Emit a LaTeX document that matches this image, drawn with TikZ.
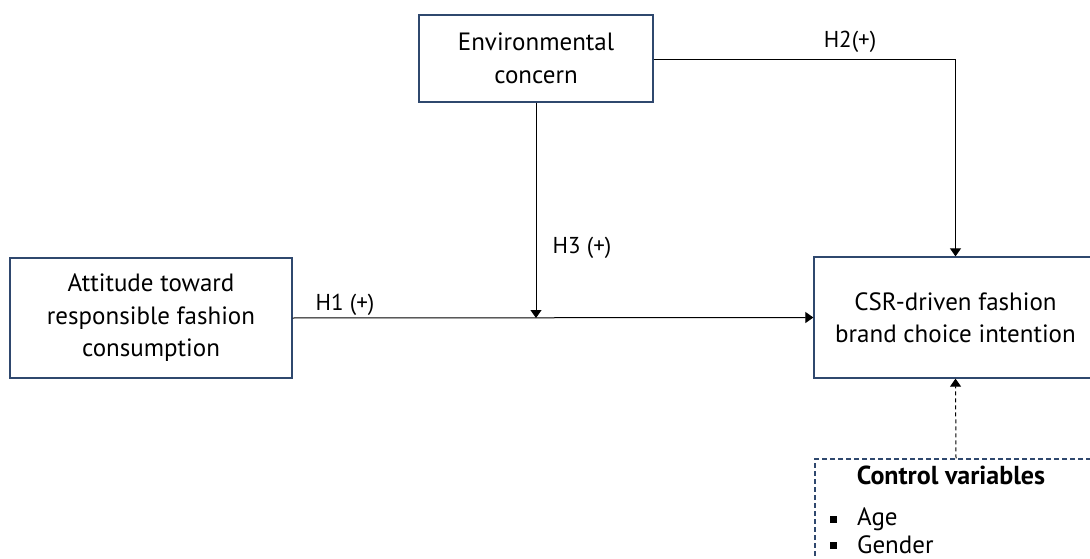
\documentclass[tikz,border=0pt]{standalone}
\usepackage{fontspec}
\setmainfont{PT Sans}
\usetikzlibrary{arrows.meta}
\definecolor{boxc}{RGB}{47,72,110}
\tikzset{
  box/.style={draw=boxc, line width=1.3pt, fill=white, align=center, inner sep=0pt},
  conn/.style={draw=black, line width=1pt},
  arr/.style={conn, -{Triangle[width=11pt,length=8pt]}},
  lbl/.style={inner sep=0pt, anchor=center, font=\fontsize{23}{32}\selectfont},
  ctl/.style={inner sep=0pt, anchor=west, font=\fontsize{25}{32}\selectfont},
  bul/.style={fill=black, inner sep=0pt, minimum size=7pt},
}
\begin{document}
\begin{tikzpicture}[x=1pt,y=-1pt, font=\fontsize{25}{32.5}\selectfont]
\useasboundingbox (0,0) rectangle (1090,559);
\clip (0,0) rectangle (1090,559);
\node[box, minimum width=234pt, minimum height=87pt] (env) at (536,58.5) {Environmental\\concern};
\node[box, minimum width=282pt, minimum height=120pt] (att) at (151,318) {Attitude toward\\responsible fashion\\consumption};
\node[box, minimum width=283pt, minimum height=121pt] (csr) at (955.5,317.5) {CSR-driven fashion\\brand choice intention};
\node[box, dashed, dash pattern=on 5pt off 3pt, line width=1.1pt, minimum width=282pt, minimum height=120pt] (ctrl) at (956,519) {};
\node[inner sep=0pt, font=\fontsize{26}{32}\selectfont\bfseries] (ctitle) at (951,475) {Control variables};
\node[bul] (b1) at (833,519) {};
\node[ctl] (age) at (857,519) {Age};
\node[bul] (b2) at (833,545) {};
\node[ctl] (gen) at (857,545) {Gender};
\coordinate (mid) at (536,318);
\draw[arr] (att.east) -- (csr.west);
\draw[arr] (env.south) -- (mid);
\draw[arr] ([yshift=-1.5pt]env.east) -- ([yshift=-1.5pt]env.east -| csr.north) -- (csr.north);
\draw[arr, dashed, dash pattern=on 4pt off 3pt] (ctrl.north) -- (csr.south);
\node[lbl] (h1) at (345,305) {H1 (+)};
\node[lbl] (h2) at (850,42) {H2(+)};
\node[lbl] (h3) at (582,248) {H3 (+)};
\end{tikzpicture}
\end{document}
